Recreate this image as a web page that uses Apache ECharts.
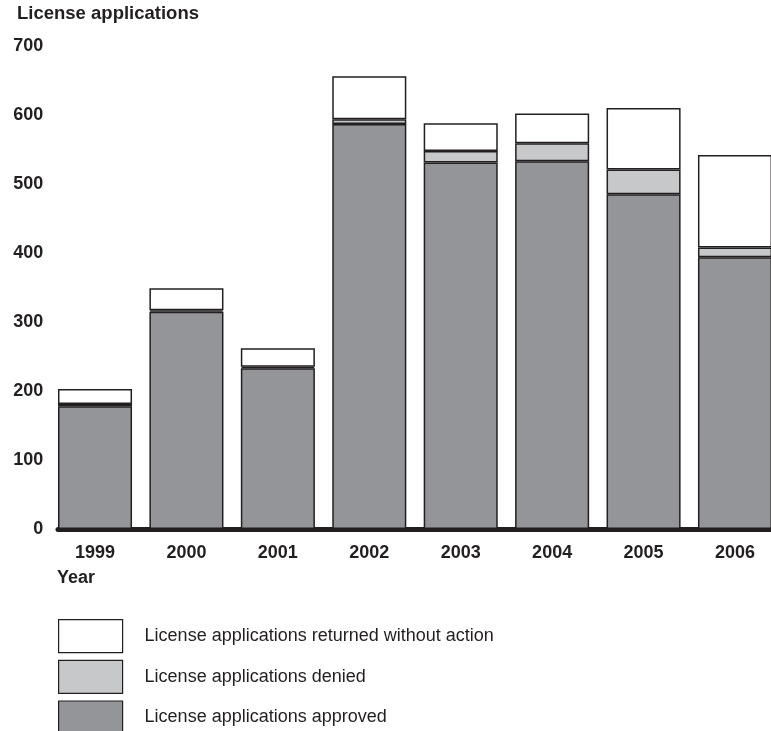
<!DOCTYPE html>
<html>
<head>
<meta charset="utf-8">
<script src="https://cdn.jsdelivr.net/npm/echarts@6/dist/echarts.min.js"></script>
<style>
html,body{margin:0;padding:0;background:#fff;}
#chart{width:771px;height:731px;}
</style>
</head>
<body>
<div id="chart"></div>
<script>
const years = ['1999','2000','2001','2002','2003','2004','2005','2006'];
const approved = [178, 315, 233, 587, 531, 533, 485, 394];
const denied = [3, 2, 2, 7, 17, 26, 36, 14];
const returned = [22, 32, 27, 62, 40, 43, 89, 134];
const yTicks = [0, 100, 200, 300, 400, 500, 600, 700];

const FONT = '"Liberation Sans", Arial, Helvetica, sans-serif';
const INK = '#231f20';
const C_APPROVED = '#939598';
const C_DENIED = '#c7c8ca';
const C_RETURNED = '#ffffff';
const NAMES = ['License applications returned without action','License applications denied','License applications approved'];

const chart = echarts.init(document.getElementById('chart'), null, {renderer:'canvas'});
const barStyle = (c) => ({color: c, borderColor: INK, borderWidth: 1.5});
chart.setOption({
  animation: false,
  backgroundColor: '#fff',
  title: [
    {text: 'License applications', left: 17, top: 4, padding: 0,
     textStyle: {fontFamily: FONT, fontSize: 18.5, fontWeight: 'bold', color: INK}},
    {text: 'Year', left: 57, top: 569, padding: 0,
     textStyle: {fontFamily: FONT, fontSize: 18, fontWeight: 'bold', color: INK}}
  ],
  legend: {
    orient: 'vertical', left: 58, top: 619, height: 130, padding: 0,
    itemWidth: 64, itemHeight: 33, itemGap: 6.5,
    icon: 'rect',
    textStyle: {fontFamily: FONT, fontSize: 18, color: INK, padding: [0,0,0,17]},
    data: [
      {name: NAMES[0], itemStyle: {color: C_RETURNED, borderColor: INK, borderWidth: 1.2}},
      {name: NAMES[1], itemStyle: {color: C_DENIED, borderColor: INK, borderWidth: 1.2}},
      {name: NAMES[2], itemStyle: {color: C_APPROVED, borderColor: INK, borderWidth: 1.2}}
    ]
  },
  grid: [
    {left: 49.3, width: 731.4, top: 46, bottom: 202, outerBoundsMode: 'none', containLabel: false},
    {left: 58, right: 0, top: 528, bottom: 202, outerBoundsMode: 'none'}
  ],
  xAxis: [
    {type: 'category', data: years, gridIndex: 0,
     axisLine: {show: false}, axisTick: {show: false},
     axisLabel: {fontFamily: FONT, fontSize: 18, fontWeight: 'bold', color: INK, margin: 15}},
    {type: 'value', gridIndex: 1, min: 0, max: 1,
     axisLine: {show: true, lineStyle: {color: INK, width: 5}},
     axisTick: {show: false}, axisLabel: {show: false}, splitLine: {show: false}}
  ],
  yAxis: [
    {type: 'value', gridIndex: 0, min: yTicks[0], max: yTicks[yTicks.length-1], interval: 100,
     axisLine: {show: false}, axisTick: {show: false}, splitLine: {show: false},
     axisLabel: {fontFamily: FONT, fontSize: 18, fontWeight: 'bold', color: INK, margin: 6}},
    {type: 'value', gridIndex: 1, show: false}
  ],
  series: [
    {name: NAMES[2], type: 'bar', stack: 'a', data: approved, barCategoryGap: '19%', itemStyle: barStyle(C_APPROVED)},
    {name: NAMES[1], type: 'bar', stack: 'a', data: denied, itemStyle: barStyle(C_DENIED)},
    {name: NAMES[0], type: 'bar', stack: 'a', data: returned, itemStyle: barStyle(C_RETURNED)}
  ]
});
</script>
</body>
</html>
